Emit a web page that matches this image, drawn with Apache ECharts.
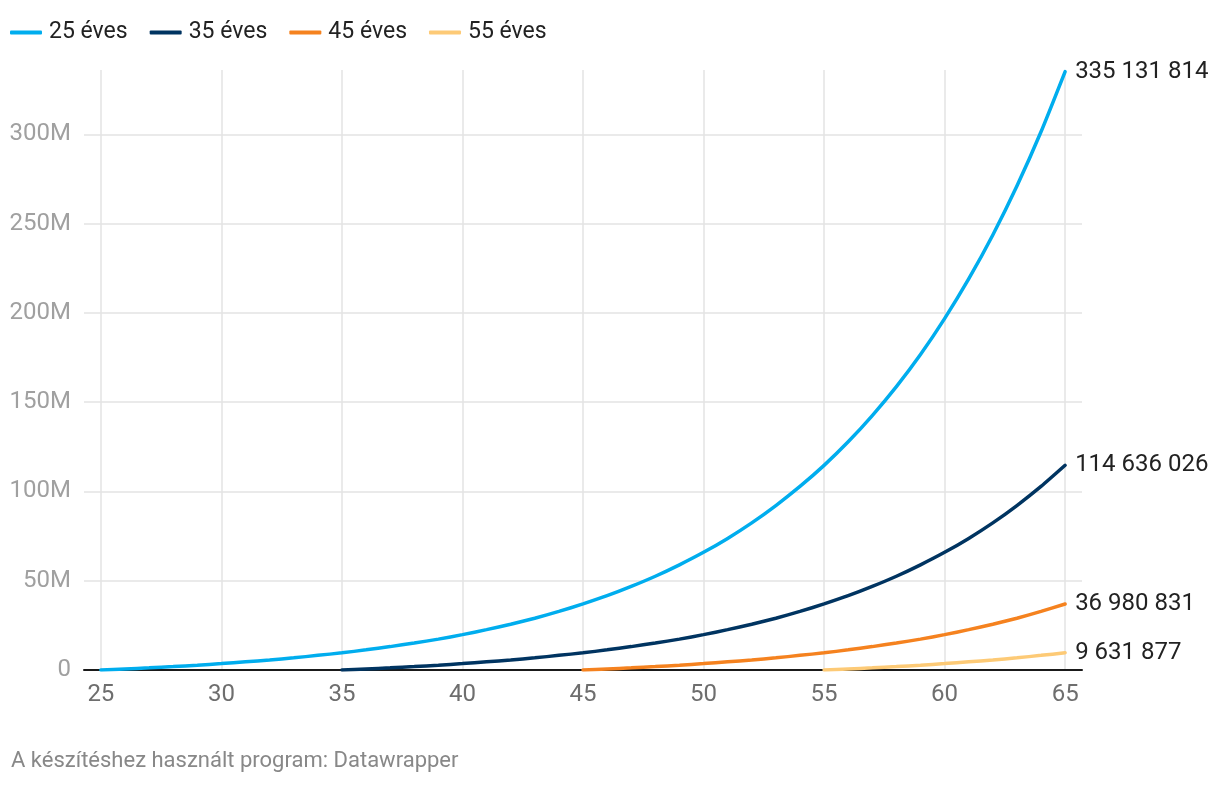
<!DOCTYPE html>
<html>
<head>
<meta charset="utf-8">
<script src="https://cdn.jsdelivr.net/npm/echarts@6/dist/echarts.min.js"></script>
<style>
html,body{margin:0;padding:0;background:#fff;}
#chart{width:1220px;height:786px;}
</style>
</head>
<body>
<div id="chart"></div>
<script>
// Ages (x axis)
const ages = [25,26,27,28,29,30,31,32,33,34,35,36,37,38,39,40,41,42,43,44,45,46,47,48,49,50,51,52,53,54,55,56,57,58,59,60,61,62,63,64,65];
const seriesNames = ['25 éves','35 éves','45 éves','55 éves'];
// values in millions
const v25 = [0,0.6,1.2,1.9,2.7,3.6,4.6,5.6,6.8,8.2,9.6,11.3,13.1,15.1,17.3,19.8,22.6,25.6,29.0,32.8,37.0,41.6,46.8,52.5,58.9,65.9,73.7,82.4,92.1,102.8,114.6,127.8,142.5,158.7,176.7,196.8,219.0,243.6,271.0,301.4,335.131814];
const v35 = [null,null,null,null,null,null,null,null,null,null,0,0.6,1.2,1.9,2.7,3.6,4.6,5.6,6.8,8.2,9.6,11.3,13.1,15.1,17.3,19.8,22.6,25.6,29.0,32.8,37.0,41.6,46.8,52.5,58.9,65.9,73.7,82.4,92.1,102.8,114.636026];
const v45 = [null,null,null,null,null,null,null,null,null,null,null,null,null,null,null,null,null,null,null,null,0,0.6,1.2,1.9,2.7,3.6,4.6,5.6,6.8,8.2,9.6,11.3,13.1,15.1,17.3,19.8,22.6,25.6,29.0,32.8,36.980831];
const v55 = [null,null,null,null,null,null,null,null,null,null,null,null,null,null,null,null,null,null,null,null,null,null,null,null,null,null,null,null,null,null,0,0.6,1.2,1.9,2.7,3.6,4.6,5.6,6.8,8.2,9.631877];
const xTicks = [25,30,35,40,45,50,55,60,65];
const yTicks = [0,50,100,150,200,250,300];
const footer = 'A készítéshez használt program: Datawrapper';

const colors = ['#00adee','#003461','#f5821f','#fdca76'];
const allVals = [v25,v35,v45,v55];

function fmtNum(n){
  return String(Math.round(n)).replace(/\B(?=(\d{3})+(?!\d))/g,' ');
}

const series = allVals.map((vals,i)=>({
  name: seriesNames[i],
  type: 'line',
  data: ages.map((a,j)=> vals[j]==null ? null : [a, vals[j]*1e6]).filter(d=>d),
  showSymbol: false,
  symbol: 'none',
  smooth: 0.2,
  lineStyle: {width: 3.5, color: colors[i], cap:'round'},
  itemStyle: {color: colors[i]},
  z: 10 - i,
  endLabel: {
    show: true,
    formatter: p => fmtNum(p.value[1]),
    color: '#222',
    fontSize: 24,
    fontFamily: 'Roboto',
    distance: 10
  },
  emphasis: {disabled: true}
}));

const chart = echarts.init(document.getElementById('chart'), null, {renderer:'canvas'});
chart.setOption({
  animation: false,
  textStyle: {fontFamily: 'Roboto'},
  color: colors,
  legend: {
    left: 10, top: 21, padding: 0,
    icon: 'roundRect',
    itemWidth: 32, itemHeight: 4,
    itemGap: 22,
    textStyle: {fontSize: 23, color: '#222', fontFamily: 'Roboto', padding: [0,0,0,2]},
    data: seriesNames
  },
  grid: {left: 84, right: 138, top: 70, bottom: 116, containLabel: false},
  xAxis: {
    type: 'value',
    min: 24.3, max: 65.7,
    axisLine: {show: true, onZero: true, lineStyle: {color: '#1a1a1a', width: 2}},
    axisTick: {show: false, customValues: xTicks},
    axisLabel: {customValues: xTicks, color: '#6e6e6e', fontSize: 24, margin: 13, fontFamily: 'Roboto'},
    splitLine: {show: true, lineStyle: {color: '#e3e3e3', width: 1.5}}
  },
  yAxis: {
    type: 'value',
    min: 0, max: 336e6,
    axisLine: {show: false},
    axisTick: {show: false, customValues: yTicks.map(v=>v*1e6)},
    axisLabel: {
      customValues: yTicks.map(v=>v*1e6),
      color: '#a0a0a0', fontSize: 24, margin: 13, fontFamily: 'Roboto',
      formatter: v => v === 0 ? '0' : (v/1e6) + 'M'
    },
    splitLine: {show: true, lineStyle: {color: '#e3e3e3', width: 1.5}}
  },
  graphic: [{
    type: 'text', left: 11, top: 750,
    style: {text: footer, fill: '#888', fontSize: 22, fontFamily: 'Roboto'}
  }],
  series: series
});
</script>
</body>
</html>
